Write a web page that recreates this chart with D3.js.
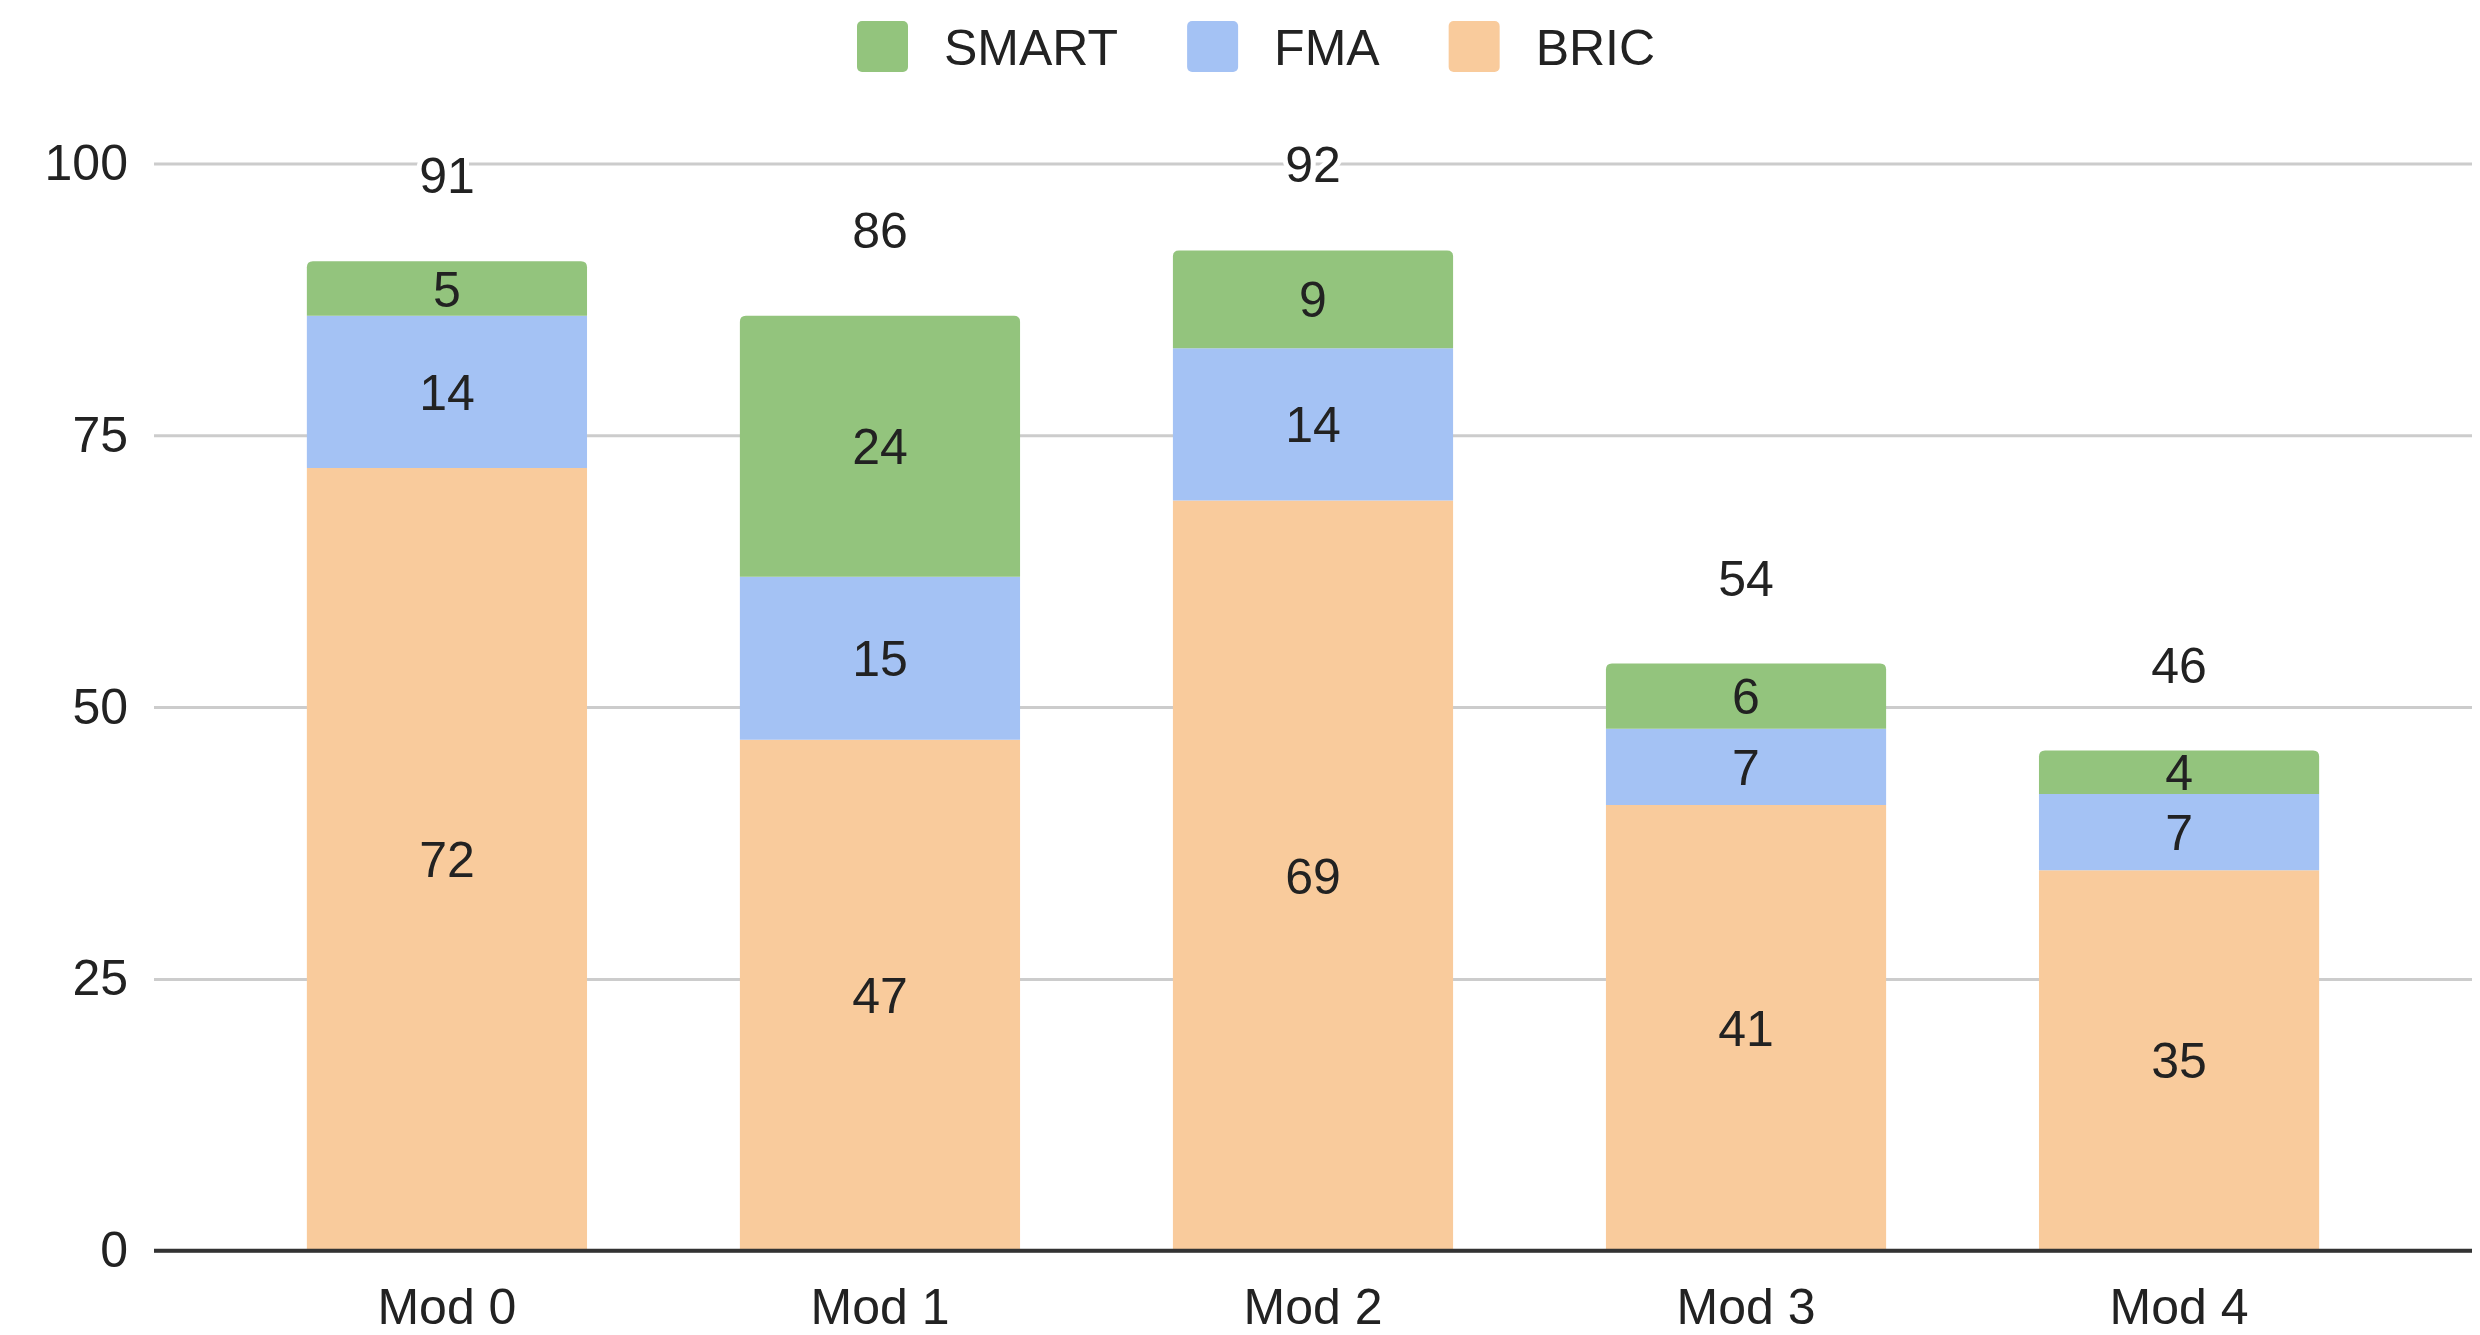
<!DOCTYPE html>
<html>
<head>
<meta charset="utf-8">
<script src="https://cdn.jsdelivr.net/npm/d3@7"></script>
<style>
  html, body { margin: 0; padding: 0; background: #fff; }
  svg { display: block; font-family: "Liberation Sans", Arial, sans-serif; }
</style>
</head>
<body>
<svg id="chart" width="2480" height="1335"></svg>
<script>
const categories = ["Mod 0", "Mod 1", "Mod 2", "Mod 3", "Mod 4"];
const seriesNames = ["BRIC", "FMA", "SMART"];
const bricValues = [72, 47, 69, 41, 35];
const fmaValues = [14, 15, 14, 7, 7];
const smartValues = [5, 24, 9, 6, 4];
const yTicks = [0, 25, 50, 75, 100];
const legendOrder = ["SMART", "FMA", "BRIC"];
const colors = { SMART: "#93c47d", FMA: "#a4c2f4", BRIC: "#f9cb9c" };

(function () {
const FONT = "'Liberation Sans', Arial, sans-serif";
const plotLeft = 154, plotRight = 2472, plotTop = 163.5, plotBottom = 1250.7;

const rows = categories.map((c, i) => ({ cat: c, BRIC: bricValues[i], FMA: fmaValues[i], SMART: smartValues[i] }));
const stack = d3.stack().keys(seriesNames)(rows);

const svg = d3.select("#chart");
const x = d3.scaleBand().domain(categories).range([plotLeft, plotRight]).padding(0.353);
const y = d3.scaleLinear().domain([0, 100]).range([plotBottom, plotTop]);

// gridlines + y labels
const yAxis = svg.append("g").attr("transform", `translate(${plotLeft},0)`)
  .call(d3.axisLeft(y).tickValues(yTicks).tickSize(-(plotRight - plotLeft)).tickPadding(26).tickFormat(d3.format("d")));
yAxis.select(".domain").remove();
yAxis.selectAll(".tick line").attr("stroke", "#cccccc").attr("stroke-width", 3);
yAxis.selectAll(".tick text").attr("font-size", 50).attr("fill", "#222").attr("font-family", FONT);

// bars
function segPath(x0, w, yTop, yBot, rounded) {
  const r = rounded ? 6 : 0;
  return `M${x0},${yBot}L${x0},${yTop + r}` +
    (r ? `Q${x0},${yTop} ${x0 + r},${yTop}` : "") +
    `L${x0 + w - r},${yTop}` +
    (r ? `Q${x0 + w},${yTop} ${x0 + w},${yTop + r}` : "") +
    `L${x0 + w},${yBot}Z`;
}
const lastKey = seriesNames[seriesNames.length - 1];
stack.forEach(layer => {
  const g = svg.append("g");
  g.selectAll("path").data(layer).enter().append("path")
    .attr("d", d => segPath(x(d.data.cat), x.bandwidth(), y(d[1]), y(d[0]), layer.key === lastKey))
    .attr("fill", colors[layer.key]);
});

// baseline
svg.append("line").attr("x1", plotLeft).attr("x2", plotRight).attr("y1", y(0)).attr("y2", y(0))
  .attr("stroke", "#333").attr("stroke-width", 4);

// segment labels
stack.forEach(layer => {
  svg.append("g").selectAll("text").data(layer).enter().append("text")
    .attr("x", d => x(d.data.cat) + x.bandwidth() / 2)
    .attr("y", d => (y(d[0]) + y(d[1])) / 2)
    .attr("dy", "0.36em")
    .attr("text-anchor", "middle")
    .attr("font-size", 50).attr("fill", "#222")
    .text(d => d.data[layer.key]);
});

// totals
const topLayer = stack[stack.length - 1];
svg.append("g").selectAll("text").data(topLayer).enter().append("text")
  .attr("x", d => x(d.data.cat) + x.bandwidth() / 2)
  .attr("y", d => y(d[1]) - 68)
  .attr("text-anchor", "middle")
  .attr("font-size", 50).attr("fill", "#222")
  .attr("stroke", "#fff").attr("stroke-width", 10).attr("paint-order", "stroke")
  .text(d => d[1]);

// x axis labels
const xAxis = svg.append("g").attr("transform", `translate(0,${plotBottom})`)
  .call(d3.axisBottom(x).tickSize(0).tickPadding(38));
xAxis.select(".domain").remove();
xAxis.selectAll(".tick text").attr("font-size", 50).attr("fill", "#222").attr("font-family", FONT);

// legend
const legend = svg.append("g");
let lx = 857;
legendOrder.forEach(name => {
  legend.append("rect").attr("x", lx).attr("y", 21).attr("width", 51).attr("height", 51)
    .attr("rx", 5).attr("fill", colors[name]);
  const t = legend.append("text").attr("x", lx + 87).attr("y", 65)
    .attr("font-size", 50).attr("fill", "#222").text(name);
  lx += 87 + t.node().getComputedTextLength() + 69;
});
})();
</script>
</body>
</html>
